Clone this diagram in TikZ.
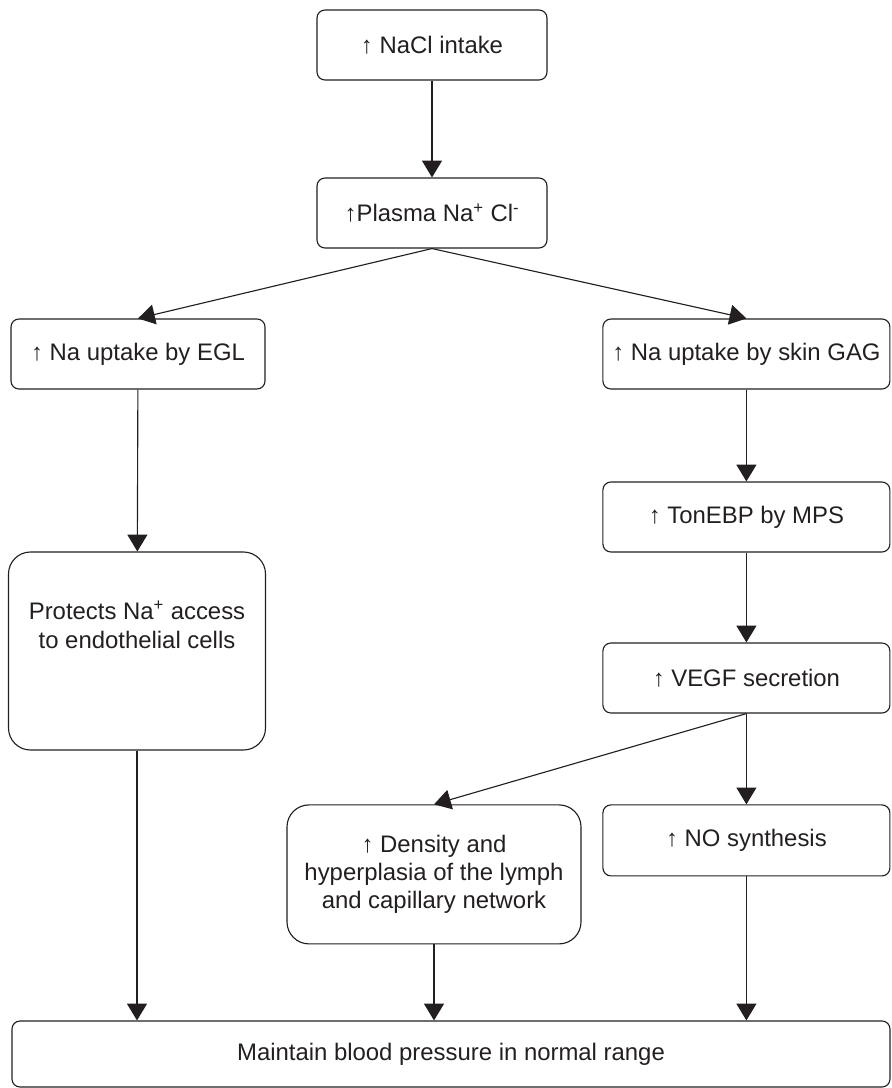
\documentclass[tikz,border=0pt]{standalone}
\usepackage{fontspec}
\setmainfont{Liberation Sans}
\usetikzlibrary{arrows.meta}
\definecolor{ink}{RGB}{35,31,32}
\begin{document}
\begin{tikzpicture}[
  box/.style={draw=ink,line width=0.8pt,rounded corners=0.2cm,align=center,text=ink,
    font=\fontsize{17}{20}\selectfont,inner sep=0pt,minimum height=1.75cm},
  tallbox/.style={box,rounded corners=0.55cm},
  flow/.style={draw=ink,line width=0.8pt,-{Triangle[width=0.5cm,length=0.42cm]}}]
\pgfmathsetmacro{\rx}{18.66}
\pgfmathsetmacro{\rw}{7.175}
\useasboundingbox (0,0) rectangle (22.275,-27.2);
% top
\node[box,minimum width=5.75cm] (nacl) at (10.8,-1.125) {↑ NaCl intake};
\node[box,minimum width=5.75cm] (plasma) at (10.8,-5.325) {↑Plasma Na\textsuperscript{+} Cl\textsuperscript{-}};
% left column
\node[box,minimum width=6.35cm] (egl) at (3.45,-8.85) {↑ Na uptake by EGL};
\node[tallbox,minimum width=6.425cm,minimum height=4.95cm,
  label={[name=protectstext,align=center,text=ink,font=\fontsize{17}{20.5}\selectfont,yshift=0.65cm]center:Protects Na\textsuperscript{+} access\\to endothelial cells}]
  (protects) at (3.425,-16.275) {};
% right column
\node[box,minimum width=\rw cm] (skin) at (\rx,-8.85) {↑ Na uptake by skin GAG};
\node[box,minimum width=\rw cm] (tonebp) at (\rx,-12.925) {↑ TonEBP by MPS};
\node[box,minimum width=\rw cm] (vegf) at (\rx,-16.95) {↑ VEGF secretion};
\node[box,minimum width=\rw cm,minimum height=1.775cm] (no) at (\rx,-21.01) {↑ NO synthesis};
\node[tallbox,minimum width=7.35cm,minimum height=3.475cm,font=\fontsize{17}{20}\selectfont] (density) at (10.85,-21.86)
  {↑ Density and\\hyperplasia of the lymph\\and capillary network};
% bottom
\node[box,minimum width=21.95cm,minimum height=1.65cm] (bp) at (11.275,-26.35) {Maintain blood pressure in normal range};
% arrows
\draw[flow] (nacl) -- (plasma);
\draw[flow] (plasma.south) -- (egl.north);
\draw[flow] (plasma.south) -- (skin.north);
\draw[flow] (egl) -- (protects);
\draw[flow] (skin) -- (tonebp);
\draw[flow] (tonebp) -- (vegf);
\draw[flow] (vegf) -- (no);
\draw[flow] (vegf.south) -- (density.north);
\foreach \n in {protects,density,no}
  \draw[flow] (\n.south) -- (\n.south |- bp.north);
\end{tikzpicture}
\end{document}
